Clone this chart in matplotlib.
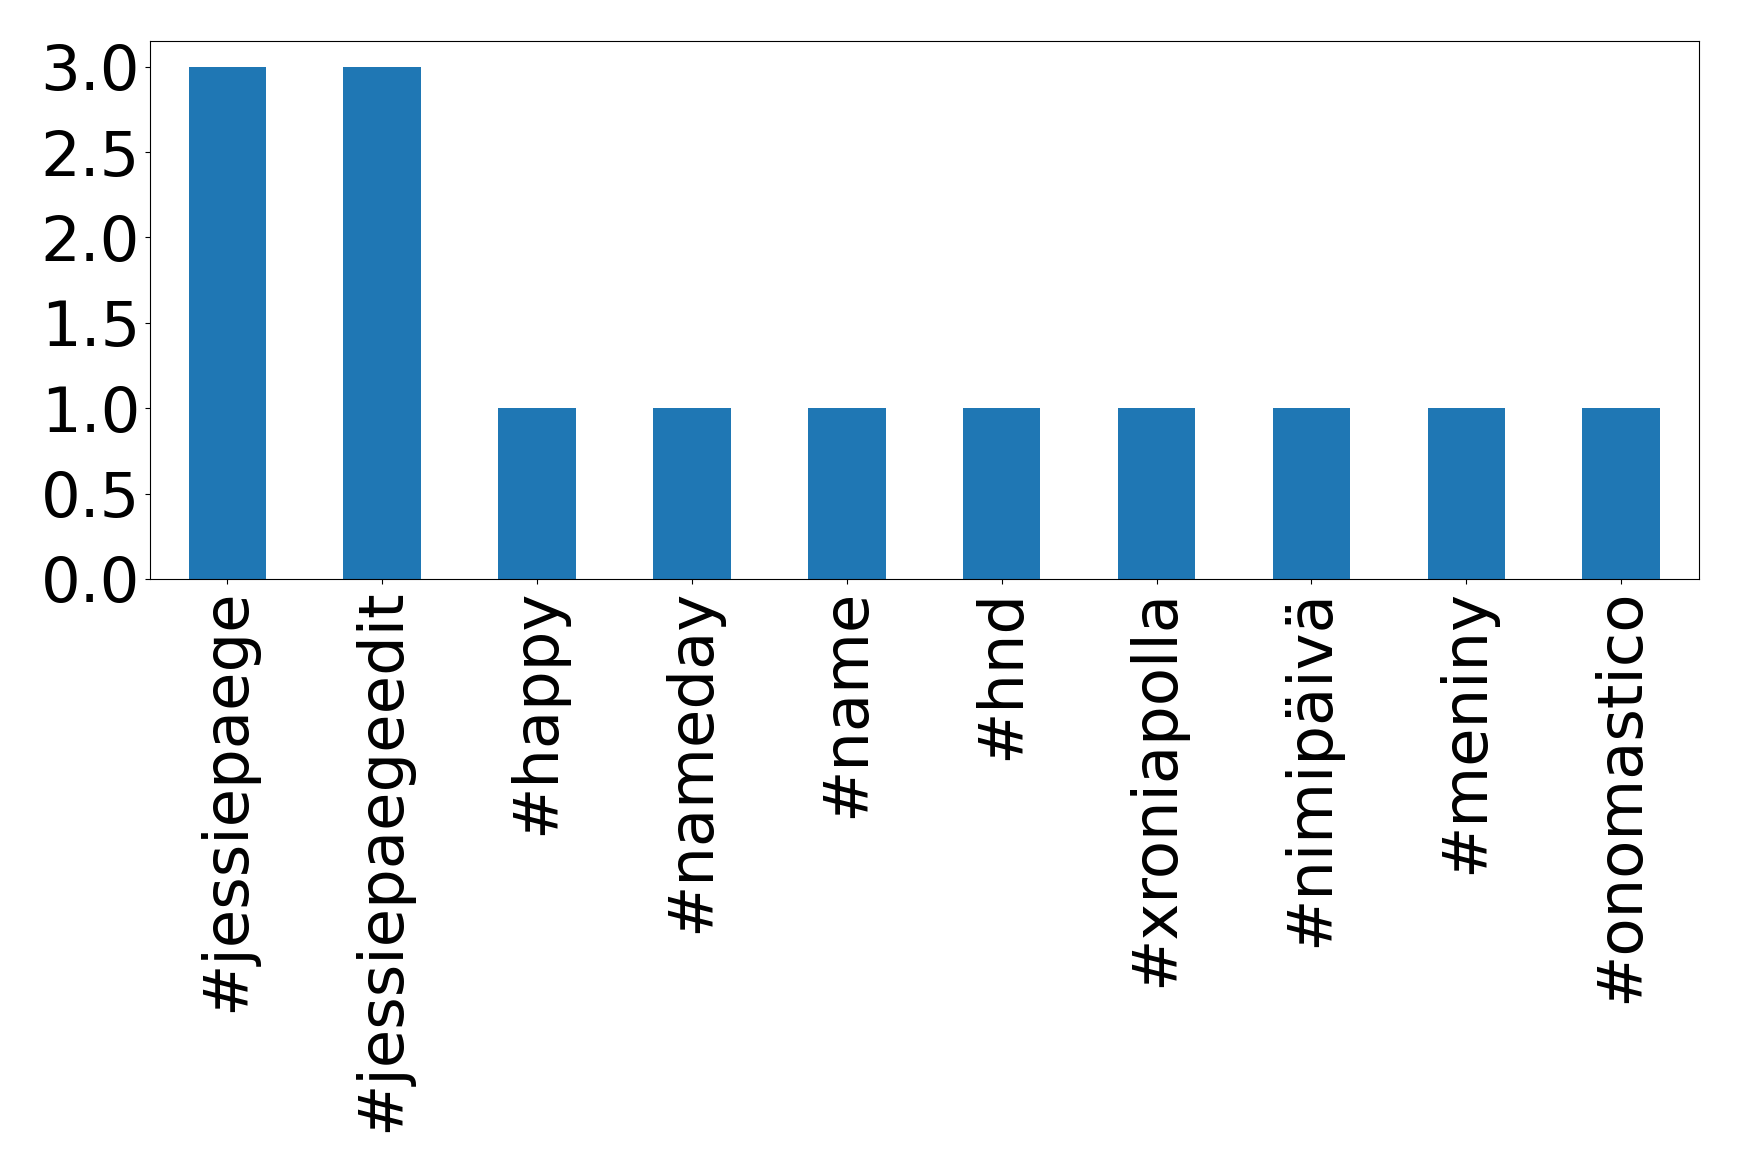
import matplotlib
matplotlib.use("Agg")
import matplotlib.pyplot as plt
import numpy as np

# hashtags y cuántas veces aparecen
hashtags = ['#jessiepaege', '#jessiepaegeedit', '#happy', '#nameday', '#name',
            '#hnd', '#xroniapolla', '#nimipäivä', '#meniny', '#onomastico']
counts = [3, 3, 1, 1, 1, 1, 1, 1, 1, 1]
yticks = [0.0, 0.5, 1.0, 1.5, 2.0, 2.5, 3.0]

fig = plt.figure(figsize=(17.39, 11.72), dpi=100)
ax = fig.add_axes([0.0862, 0.506, 0.8906, 0.459])

x = np.arange(len(hashtags))
ax.bar(x, counts, width=0.5, color='#1f77b4')
ax.set_xlim(-0.5, len(hashtags) - 0.5)
ax.set_ylim(0, 3.15)
ax.set_yticks(yticks)
ax.set_yticklabels([f'{v:.1f}' for v in yticks])
ax.set_xticks(x)
ax.set_xticklabels(hashtags, rotation=90)
ax.tick_params(axis='both', labelsize=45)

fig.savefig('out.png', dpi=100)
